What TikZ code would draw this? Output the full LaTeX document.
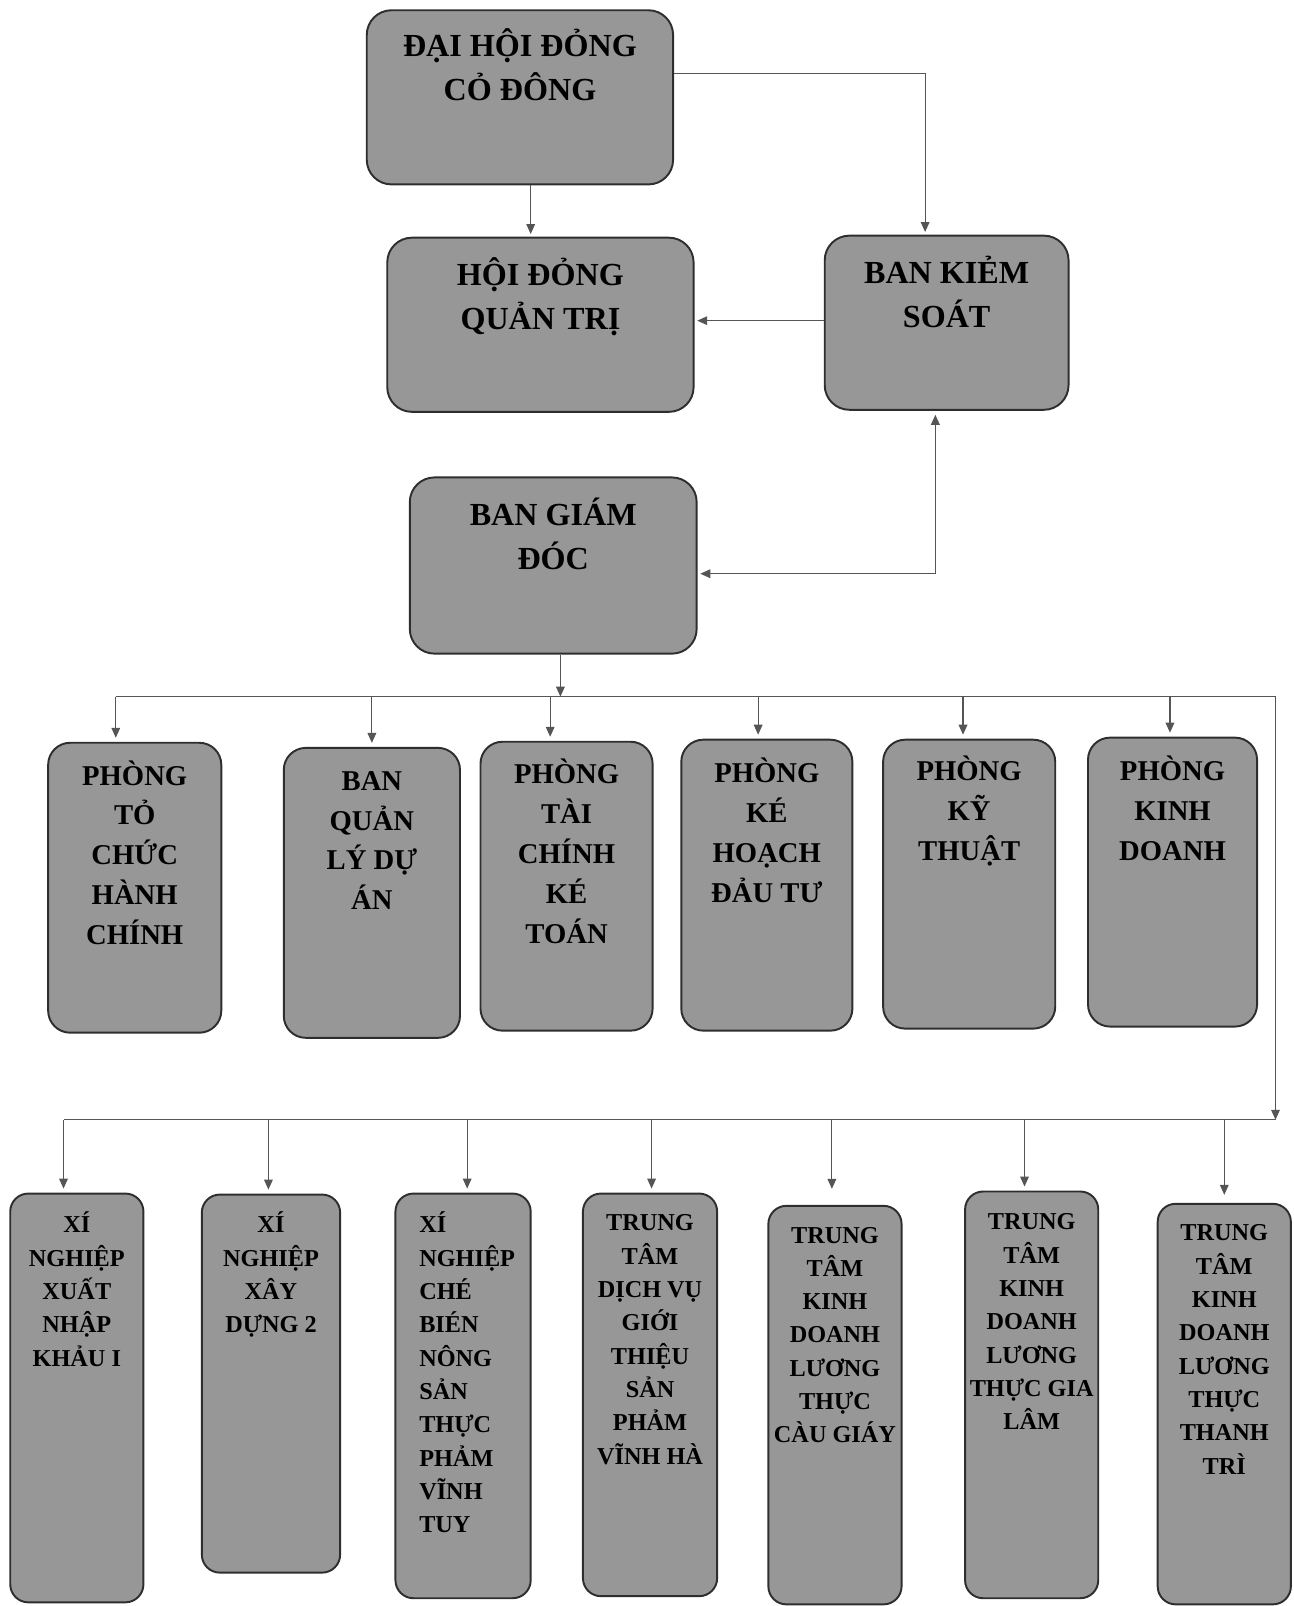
\documentclass[tikz,border=0pt]{standalone}
\usepackage{fontspec}
\setmainfont{Liberation Serif}
\usetikzlibrary{arrows.meta}
\definecolor{boxgray}{HTML}{979797}
\definecolor{edgegray}{HTML}{2E2E2E}
\definecolor{linegray}{HTML}{555555}
\def\un{0.7684}
\tikzset{
 basebox/.style={draw=edgegray, line width=1.45pt, fill=boxgray, inner sep=0pt},
 topbox/.style={basebox, rounded corners=18.5pt},
 midbox/.style={basebox, rounded corners=16.5pt},
 botbox/.style={basebox, rounded corners=13.5pt},
 baselbl/.style={inner sep=0pt, align=center, text=black},
 toplbl/.style={baselbl, font=\fontsize{24.1}{33.05}\selectfont\bfseries},
 midlbl/.style={baselbl, font=\fontsize{21.5}{29.9}\selectfont\bfseries},
 botlbl/.style={baselbl, font=\fontsize{18.2}{25}\selectfont\bfseries},
 conn/.style={draw=linegray, line width=0.9pt},
 arr/.style={conn, -{Triangle[length=7.5pt,width=6.5pt]}},
 dblarr/.style={conn, {Triangle[length=7.5pt,width=6.5pt]}-{Triangle[length=7.5pt,width=6.5pt]}},
}
\newcommand{\orgbox}[8]{%
  \node[#6box, minimum width={(#4-#2)*\un pt}, minimum height={(#5-#3)*\un pt}] (#1) at ({(#2+#4)/2},{(#3+#5)/2}) {};
  \node[#6lbl, anchor=north] (#1t) at ({(#2+#4)/2},{#7-\sh}) {\rule{0pt}{1.1em}#8};
}
\begin{document}
\begin{tikzpicture}[x=0.7684pt, y=-0.7684pt]
\useasboundingbox (0,0) rectangle (1262.1,1567.6);
% top level
\def\sh{34.5}
\orgbox{d1}{358}{10}{657}{180}{top}{55}{ĐẠI HỘI ĐỎNG\\CỎ ĐÔNG}
\orgbox{hd}{378}{232}{677}{402}{top}{278}{HỘI ĐỎNG\\QUẢN TRỊ}
\orgbox{bks}{805}{230}{1043}{400}{top}{276}{BAN KIẺM\\SOÁT}
\orgbox{bgd}{400}{466}{680}{638}{top}{513}{BAN GIÁM\\ĐÓC}
% second row
\def\sh{30.8}
\orgbox{b1}{47}{725}{216}{1008}{mid}{766}{PHÒNG\\TỎ\\CHỨC\\HÀNH\\CHÍNH}
\orgbox{b2}{277}{730}{449}{1013}{mid}{771}{BAN\\QUẢN\\LÝ DỰ\\ÁN}
\orgbox{b3}{469}{724}{637}{1006}{mid}{765}{PHÒNG\\TÀI\\CHÍNH\\KÉ\\TOÁN}
\orgbox{b4}{665}{722}{832}{1006}{mid}{764}{PHÒNG\\KÉ\\HOẠCH\\ĐẢU TƯ}
\orgbox{b5}{862}{722}{1030}{1004}{mid}{762}{PHÒNG\\KỸ\\THUẬT}
\orgbox{b6}{1062}{720}{1227}{1002}{mid}{762}{PHÒNG\\KINH\\DOANH}
% third row
\def\sh{26.05}
\orgbox{c1}{10}{1165}{140}{1564}{bot}{1203}{XÍ\\NGHIỆP\\XUẤT\\NHẬP\\KHẢU I}
\orgbox{c2}{197}{1166}{332}{1535}{bot}{1203}{XÍ\\NGHIỆP\\XÂY\\DỰNG 2}
\node[botbox, minimum width={(518-386)*\un pt}, minimum height={(1560-1165)*\un pt}] (c3) at ({(386+518)/2},{(1165+1560)/2}) {};
\node[botlbl, align=left, anchor=north west] (c3t) at (409,{1203-26.05}) {\rule{0pt}{1.1em}XÍ\\NGHIỆP\\CHÉ\\BIÉN\\NÔNG\\SẢN\\THỰC\\PHẢM\\VĨNH\\TUY};
\orgbox{c4}{569}{1165}{700}{1558}{bot}{1201}{TRUNG\\TÂM\\DỊCH VỤ\\GIỚI\\THIỆU\\SẢN\\PHẢM\\VĨNH HÀ}
\orgbox{c5}{750}{1177}{880}{1566}{bot}{1213}{TRUNG\\TÂM\\KINH\\DOANH\\LƯƠNG\\THỰC\\CÀU GIÁY}
\orgbox{c6}{942}{1163}{1072}{1560}{bot}{1200}{TRUNG\\TÂM\\KINH\\DOANH\\LƯƠNG\\THỰC GIA\\LÂM}
\orgbox{c7}{1130}{1175}{1260}{1566}{bot}{1211}{TRUNG\\TÂM\\KINH\\DOANH\\LƯƠNG\\THỰC\\THANH\\TRÌ}
% helper coordinates
\coordinate (xa) at (518,0);
\coordinate (ya) at (0,72);
\coordinate (k1) at (903,72);
\coordinate (yb) at (0,313);
\coordinate (xc) at (913,0);
\coordinate (k2) at (913,560);
\coordinate (xd) at (547,0);
\coordinate (j0) at (547,680);
\coordinate (bl) at (113,680);
\coordinate (br) at (1245,680);
\coordinate (brd) at (1245,1093);
\coordinate (cl) at (62,1093);
% top connectors
\draw[arr, shorten >=2pt] (d1.south -| xa) -- (hd.north -| xa);
\draw[arr, shorten >=2pt] (d1.east |- ya) -- (k1) -- (bks.north -| k1);
\draw[arr, shorten >=2pt] (bks.west |- yb) -- (hd.east |- yb);
\draw[dblarr, shorten >=2pt, shorten <=3pt] (bks.south -| xc) -- (k2) -- (bgd.east |- k2);
\draw[arr] (bgd.south -| xd) -- (j0);
% bus 1
\draw[conn] (bl) -- (br);
\draw[arr] (br) -- (brd);
% bus 2
\draw[conn] (cl) -- (brd);
% drops row 2
\foreach \n/\x in {b1/113, b2/363, b3/537, b4/740, b5/940, b6/1142}{
  \coordinate (p\n) at (\x,680);
  \draw[arr, shorten >=3pt] (p\n) -- (\n.north -| p\n);
}
% drops row 3
\foreach \n/\x/\s in {c1/62/3, c2/262/3, c3/456/3, c4/636/3, c5/812/12, c6/1000/3, c7/1195/6}{
  \coordinate (q\n) at (\x,1093);
  \draw[arr, shorten >=\s pt] (q\n) -- (\n.north -| q\n);
}
\end{tikzpicture}
\end{document}
